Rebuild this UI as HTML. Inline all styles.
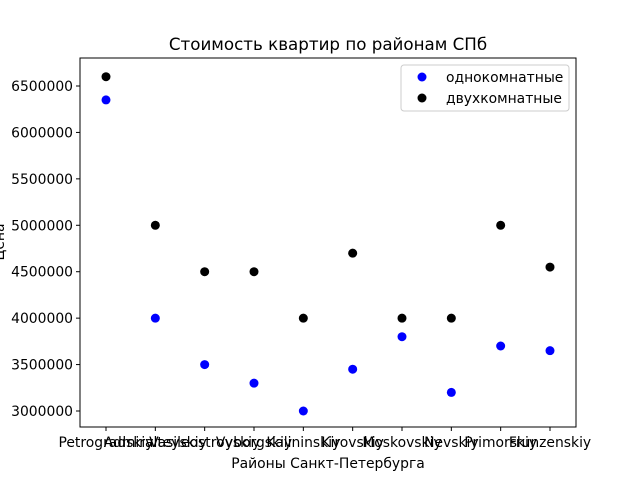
<!DOCTYPE html>
<html><head><meta charset="utf-8"><style>body{margin:0;background:#fff}svg{display:block;font-family:"DejaVu Sans","Liberation Sans",sans-serif}</style></head>
<body>
<svg id="c" width="640" height="480"></svg>
<script>
const categories=["Petrogradskiy","Admiralteyskiy","Vasileostrovskiy","Vyborgskiy","Kalininskiy","Kirovskiy","Moskovskiy","Nevskiy","Primorskiy","Frunzenskiy"];
const oneRoom=[6350000,4000000,3500000,3300000,3000000,3450000,3800000,3200000,3700000,3650000];
const twoRoom=[6600000,5000000,4500000,4500000,4000000,4700000,4000000,4000000,5000000,4550000];
const yTicks=[3000000,3500000,4000000,4500000,5000000,5500000,6000000,6500000];
const NS="http://www.w3.org/2000/svg",svg=document.getElementById('c');
const L=80,R=576,T=58,B=427;
const x=i=>106+i*(550-106)/(categories.length-1);
const y=v=>411-(v-3000000)*(411-86)/3500000;
function mk(t,a,txt){const e=document.createElementNS(NS,t);for(const k in a)e.setAttribute(k,a[k]);if(txt!==undefined)e.textContent=txt;svg.appendChild(e);return e;}
let e=mk('rect',{x:L,y:T,width:R-L,height:B-T,fill:'none',stroke:'#000','stroke-width':1});


yTicks.forEach(v=>{
 e=mk('line',{x1:L-4,x2:L,y1:y(v),y2:y(v),stroke:'#000'});
 
 
 e=mk('text',{x:L-7,y:y(v)+5,'text-anchor':'end','font-size':13.9},String(v));
 
 
});
categories.forEach((c,i)=>{
 e=mk('line',{x1:x(i),x2:x(i),y1:B,y2:B+4,stroke:'#000'});
 
 
 e=mk('text',{x:x(i),y:B+20,'text-anchor':'middle','font-size':13.9},c);
 
 
});
oneRoom.forEach((v,i)=>{
 e=mk('circle',{cx:x(i),cy:y(v),r:4.5,fill:'#0000ff'});
 
 
});
twoRoom.forEach((v,i)=>{
 e=mk('circle',{cx:x(i),cy:y(v),r:4.5,fill:'#000'});
 
 
});
e=mk('text',{x:328,y:50,'text-anchor':'middle','font-size':16.7},'Стоимость квартир по районам СПб');


e=mk('text',{x:328,y:468,'text-anchor':'middle','font-size':13.9},'Районы Санкт-Петербурга');


e=mk('text',{x:0,y:0,'text-anchor':'middle','font-size':13.9,transform:'translate(4,242) rotate(-90)'},'Цена');


e=mk('rect',{x:401,y:65,width:168,height:46,rx:3,fill:'#fff',stroke:'#ccc'});


e=mk('circle',{cx:422,cy:77,r:4.5,fill:'#0000ff'});


e=mk('text',{x:446,y:82,'font-size':13.9},'однокомнатные');


e=mk('circle',{cx:422,cy:98,r:4.5,fill:'#000'});


e=mk('text',{x:446,y:103,'font-size':13.9},'двухкомнатные');


</script>
</body></html>
